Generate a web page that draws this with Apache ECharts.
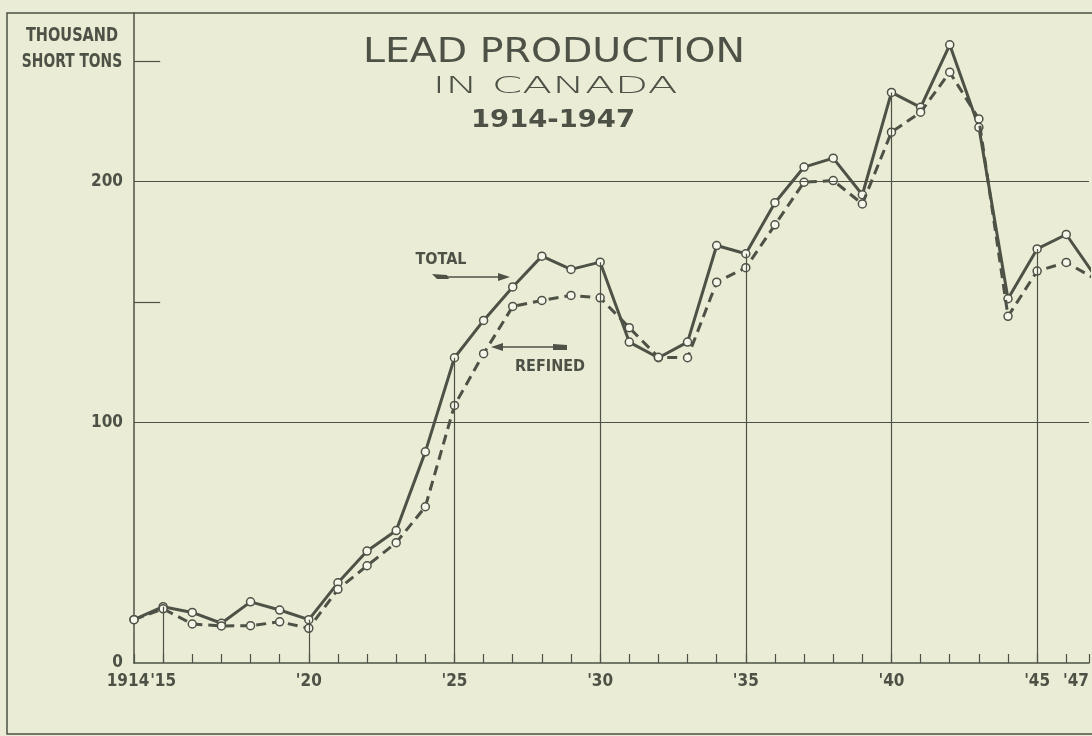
<!DOCTYPE html>
<html>
<head>
<meta charset="utf-8">
<title>Lead Production in Canada</title>
<script src="https://cdn.jsdelivr.net/npm/echarts@6/dist/echarts.min.js"></script>
<style>
  html, body { margin: 0; padding: 0; background: #eaecd5; }
  #chart { width: 1092px; height: 736px; }
</style>
</head>
<body>
<div id="chart"></div>
<script>
// values, thousand short tons
var years = [1914, 1915, 1916, 1917, 1918, 1919, 1920, 1921, 1922, 1923, 1924,
             1925, 1926, 1927, 1928, 1929, 1930, 1931, 1932, 1933, 1934, 1935,
             1936, 1937, 1938, 1939, 1940, 1941, 1942, 1943, 1944, 1945, 1946, 1947];
var total = [18, 23.4, 21, 16.5, 25.4, 22, 18, 33.3, 46.5, 55, 87.7,
             126.8, 142.3, 156.2, 169, 163.5, 166.5, 133.3, 126.8, 133.3, 173.4, 170,
             191.2, 206, 209.7, 194.5, 237, 230.8, 256.8, 222.5, 151.3, 172, 178, 160.5];
var refined = [18, 22.5, 16.2, 15.4, 15.5, 17.1, 14.4, 30.6, 40.4, 50, 64.9,
               107, 128.5, 148.1, 150.6, 152.7, 151.7, 139.3, 127, 126.8, 158.2, 164.2,
               182, 199.7, 200.4, 190.7, 220.5, 228.8, 245.4, 226, 144, 162.8, 166.4, 159.5];
var yLabels = [0, 100, 200];
var dropYears = [1915, 1920, 1925, 1930, 1935, 1940, 1945];
var shortTicks = [150, 250];

var ink = '#4e5246';
var paper = '#eaecd5';
var cond = "'DejaVu Sans Condensed', sans-serif";

function pairs(vals) {
    return years.map(function (y, i) { return [y, vals[i]]; });
}

var marks = [];
yLabels.forEach(function (v) {
    if (v > 0) marks.push({ yAxis: v });
});
dropYears.forEach(function (y) {
    var i = years.indexOf(y);
    marks.push([{ coord: [y, 0] }, { coord: [y, total[i]] }]);
});
shortTicks.forEach(function (v) {
    marks.push([{ coord: [1914, v] }, { coord: [1914.9, v] }]);
});

var chart = echarts.init(document.getElementById('chart'));

// the 1947 point sits just past the right edge of the original sheet
chart.setOption({
    backgroundColor: paper,
    animation: false,
    grid: { left: 134, right: 0, top: 13, bottom: 73 },
    xAxis: {
        type: 'value',
        min: 1914,
        max: 1946.78,
        interval: 1,
        splitLine: { show: false },
        axisLine: { lineStyle: { color: ink, width: 1.5 } },
        axisTick: { inside: true, length: 9, lineStyle: { color: ink, width: 1.2 } },
        axisLabel: {
            color: ink,
            fontFamily: cond,
            fontWeight: 'bold',
            fontSize: 17,
            margin: 10,
            showMinLabel: true,
            showMaxLabel: true,
            alignMaxLabel: 'right',
            formatter: function (v) {
                if (v === 1914) return '{y|1914}';
                if (v > 1946) return "'" + String(Math.ceil(v)).slice(2);
                if (v % 5 === 0) return "'" + String(v).slice(2);
                return '';
            },
            rich: {
                y: { color: ink, fontFamily: cond, fontWeight: 'bold', fontSize: 17, padding: [0, 12, 0, 0] }
            }
        }
    },
    yAxis: {
        type: 'value',
        min: 0,
        max: 270,
        interval: 50,
        splitLine: { show: false },
        axisTick: { show: false },
        axisLine: { show: true, lineStyle: { color: ink, width: 1.5 } },
        axisLabel: {
            color: ink,
            fontFamily: cond,
            fontWeight: 'bold',
            fontSize: 17,
            margin: 11,
            formatter: function (v) {
                return yLabels.indexOf(v) >= 0 ? String(v) : '';
            }
        }
    },
    series: [
        {
            name: 'TOTAL',
            type: 'line',
            data: pairs(total),
            symbol: 'circle',
            symbolSize: 8,
            itemStyle: { color: '#f6f6ea', borderColor: ink, borderWidth: 1.5 },
            lineStyle: { color: ink, width: 3 },
            z: 3,
            markLine: {
                silent: true,
                symbol: ['none', 'none'],
                label: { show: false },
                lineStyle: { color: ink, width: 1.2, type: 'solid' },
                data: marks
            }
        },
        {
            name: 'REFINED',
            type: 'line',
            data: pairs(refined),
            symbol: 'circle',
            symbolSize: 8,
            itemStyle: { color: '#f6f6ea', borderColor: ink, borderWidth: 1.5 },
            lineStyle: { color: ink, width: 3, type: [10, 6] },
            z: 4
        }
    ],
    graphic: [
        {
            type: 'rect',
            shape: { x: 7, y: 13, width: 1100, height: 721 },
            style: { fill: null, stroke: ink, lineWidth: 1.5 },
            silent: true
        },
        {
            type: 'text', x: 554, y: 53, scaleX: 1.29,
            style: { text: 'LEAD PRODUCTION', fontFamily: 'DejaVu Sans Condensed', fontSize: 34,
                     fill: ink, textAlign: 'center', textVerticalAlign: 'middle' }
        },
        {
            type: 'text', x: 555, y: 87, scaleX: 1.9,
            style: { text: 'IN CANADA', fontFamily: 'DejaVu Sans', fontWeight: 200, fontSize: 23,
                     fill: ink, textAlign: 'center', textVerticalAlign: 'middle' }
        },
        {
            type: 'text', x: 553, y: 121, scaleX: 1.27,
            style: { text: '1914-1947', fontFamily: 'DejaVu Sans Condensed', fontWeight: 'bold', fontSize: 24,
                     fill: ink, textAlign: 'center', textVerticalAlign: 'middle' }
        },
        {
            type: 'text', x: 72, y: 36, scaleX: 0.85,
            style: { text: 'THOUSAND', fontFamily: 'DejaVu Sans Condensed', fontWeight: 'bold', fontSize: 19,
                     fill: ink, textAlign: 'center', textVerticalAlign: 'middle' }
        },
        {
            type: 'text', x: 72, y: 62, scaleX: 0.81,
            style: { text: 'SHORT TONS', fontFamily: 'DejaVu Sans Condensed', fontWeight: 'bold', fontSize: 19,
                     fill: ink, textAlign: 'center', textVerticalAlign: 'middle' }
        },
        {
            type: 'text', x: 441, y: 260,
            style: { text: 'TOTAL', fontFamily: 'DejaVu Sans Condensed', fontWeight: 'bold', fontSize: 16,
                     fill: ink, textAlign: 'center', textVerticalAlign: 'middle' }
        },
        {
            type: 'text', x: 550, y: 367,
            style: { text: 'REFINED', fontFamily: 'DejaVu Sans Condensed', fontWeight: 'bold', fontSize: 16,
                     fill: ink, textAlign: 'center', textVerticalAlign: 'middle' }
        },
        // arrow to the total line
        {
            type: 'group', silent: true,
            children: [
                { type: 'line', shape: { x1: 442, y1: 277, x2: 500, y2: 277 }, style: { stroke: ink, lineWidth: 1.5 } },
                { type: 'polygon', shape: { points: [[510, 277], [498, 273], [498, 281]] }, style: { fill: ink } },
                { type: 'polygon', shape: { points: [[432, 274], [447, 275], [449, 279], [437, 279]] }, style: { fill: ink } }
            ]
        },
        // arrow to the refined line
        {
            type: 'group', silent: true,
            children: [
                { type: 'line', shape: { x1: 500, y1: 347, x2: 560, y2: 347 }, style: { stroke: ink, lineWidth: 1.5 } },
                { type: 'polygon', shape: { points: [[491, 347], [503, 343], [503, 351]] }, style: { fill: ink } },
                { type: 'polygon', shape: { points: [[553, 344], [567, 345], [567, 350], [553, 350]] }, style: { fill: ink } }
            ]
        }
    ]
});
</script>
</body>
</html>
